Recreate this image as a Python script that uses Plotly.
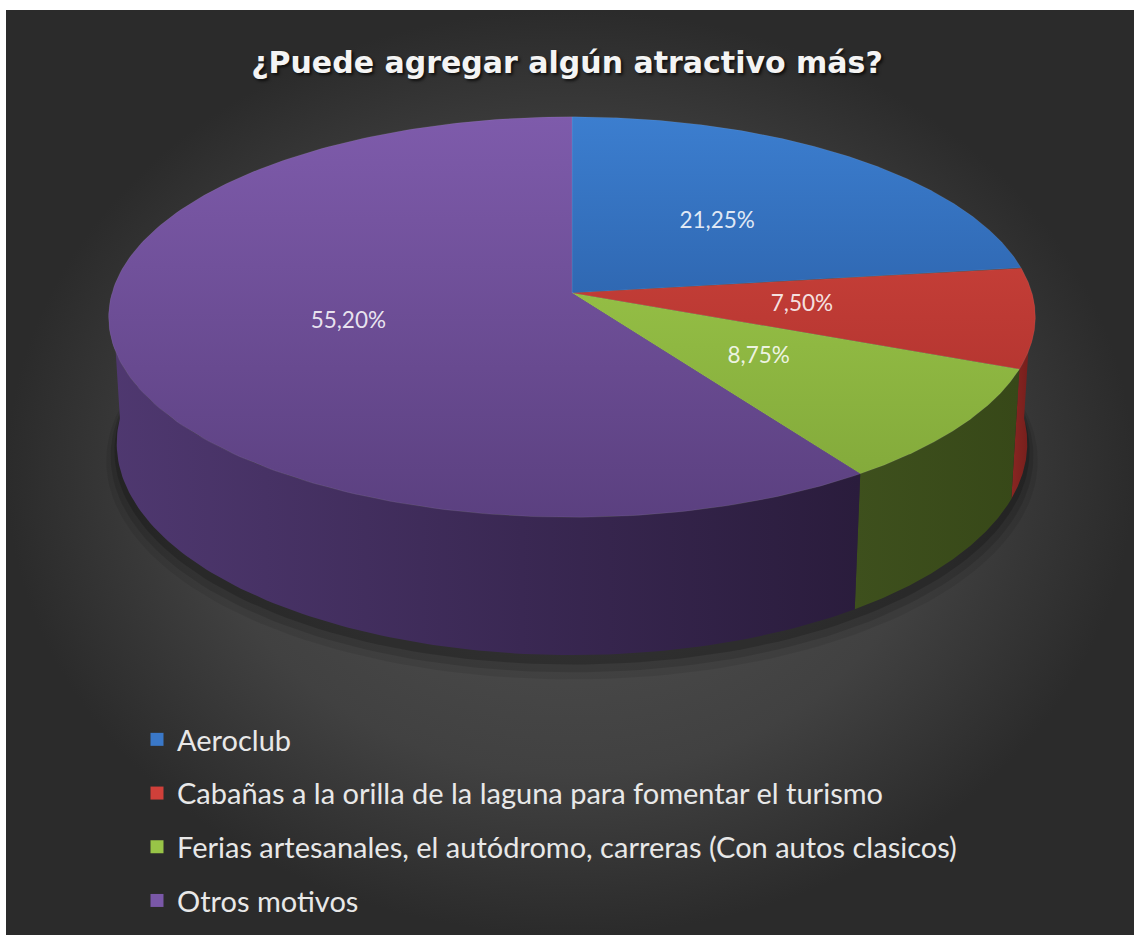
import numpy as np
import plotly.graph_objects as go

# ---------------- data ----------------
categories = [
    "Aeroclub",
    "Cabañas a la orilla de la laguna para fomentar el turismo",
    "Ferias artesanales, el autódromo, carreras (Con autos clasicos)",
    "Otros motivos",
]
values = [21.25, 7.50, 8.75, 55.20]
value_labels = ["21,25%", "7,50%", "8,75%", "55,20%"]
title_text = "¿Puede agregar algún atractivo más?"

# ---------------- styles ----------------
top_scales = [
    [[0, "#3c7ecf"], [1, "#1f4c8e"]],
    [[0, "#d6483f"], [1, "#a42c29"]],
    [[0, "#a3d04e"], [1, "#80a639"]],
    [[0, "#7e5bab"], [1, "#5b4080"]],
]
side_scales = [
    [[0, "#1f4c8e"], [1, "#1a3f78"]],
    [[0, "#8a2622"], [1, "#6e1c1a"]],
    [[0, "#3e501d"], [1, "#374818"]],
    [[0, "#4f3870"], [0.55, "#3a2853"], [1, "#2a1c3c"]],
]
legend_colors = ["#3a78c8", "#d0403a", "#98c447", "#7a58a8"]

# projection of the tilted cylinder (perspective)
CX, CY, S = 572.0, 293.0, 460.0
SIN_P = 0.429
COS_P = np.sqrt(1 - SIN_P ** 2)
D = 7.52
H = 0.307


def proj(theta_deg, r, z):
    t = np.radians(theta_deg)
    x3 = r * np.sin(t)
    y3 = r * np.cos(t)
    v = y3 * SIN_P + z * COS_P
    w = y3 * COS_P - z * SIN_P
    f = D / (D + w)
    return CX + S * x3 * f, CY - S * v * f


total = sum(values)
angles = np.concatenate([[0.0], np.cumsum(values) / total * 360.0])

fig = go.Figure()

# background with radial gradient
fig.add_trace(go.Scatter(
    x=[6, 1134, 1134, 6, 6], y=[10, 10, 935, 935, 10],
    mode="lines", line=dict(width=0), fill="toself",
    fillgradient=dict(type="radial",
                      colorscale=[[0, "#525252"], [0.65, "#414141"], [1, "#2b2b2b"]]),
    hoverinfo="skip", showlegend=False))

# soft shadow under pie
tt = np.linspace(0, 360, 241)
for rr, dz, op in [(1.025, 0.04, 0.08), (1.015, 0.03, 0.12), (1.006, 0.018, 0.18)]:
    sx, sy = proj(tt, rr, -H - dz)
    fig.add_trace(go.Scatter(x=sx, y=sy, mode="lines", line=dict(width=0),
                             fill="toself", fillcolor=f"rgba(0,0,0,{op})",
                             hoverinfo="skip", showlegend=False))

# side walls (visible front part only)
for i in range(len(values)):
    a0 = max(angles[i], 90.0)
    a1 = min(angles[i + 1], 270.0)
    if a1 <= a0:
        continue
    t = np.linspace(a0, a1, 120)
    x_top, y_top = proj(t, 1.0, 0.0)
    x_bot, y_bot = proj(t[::-1], 1.0, -H)
    xs = np.concatenate([x_top, x_bot, x_top[:1]])
    ys = np.concatenate([y_top, y_bot, y_top[:1]])
    fig.add_trace(go.Scatter(
        x=xs, y=ys, mode="lines", line=dict(width=0), fill="toself",
        fillgradient=dict(type="horizontal", colorscale=side_scales[i],
                          start=float(xs.min()), stop=float(xs.max())),
        hoverinfo="skip", showlegend=False))

# top faces
for i in range(len(values)):
    t = np.linspace(angles[i], angles[i + 1], 200)
    ax, ay = proj(t, 1.0, 0.0)
    xs = np.concatenate([[CX], ax, [CX]])
    ys = np.concatenate([[CY], ay, [CY]])
    fig.add_trace(go.Scatter(
        x=xs, y=ys, mode="lines", line=dict(width=0.6, color="rgba(255,255,255,0.12)"),
        fill="toself",
        fillgradient=dict(type="vertical", colorscale=top_scales[i], start=117, stop=517),
        hoverinfo="skip", showlegend=False))

# data labels
mid = (angles[:-1] + angles[1:]) / 2
lx, ly = proj(mid, 0.5, 0.0)
fig.add_trace(go.Scatter(
    x=lx, y=ly, mode="text", text=value_labels,
    textfont=dict(family="Lato, Open Sans, sans-serif", size=22.5,
                  color="rgba(255,255,255,0.86)"),
    hoverinfo="skip", showlegend=False))

# legend entries
for i, c in enumerate(categories):
    fig.add_trace(go.Scatter(
        x=[None], y=[None], mode="markers", name=c, legendgroup=str(i),
        marker=dict(symbol="square", size=13, color=legend_colors[i]),
        hoverinfo="skip"))

fig.update_layout(
    width=1134, height=935,
    margin=dict(l=0, r=0, t=0, b=0),
    paper_bgcolor="white", plot_bgcolor="white",
    xaxis=dict(range=[0, 1134], visible=False, fixedrange=True),
    yaxis=dict(range=[935, 0], visible=False, fixedrange=True),
    title=dict(text=title_text, x=567 / 1134, xanchor="center", y=1 - 62 / 935, yanchor="middle",
               font=dict(family="DejaVu Sans, Open Sans, sans-serif", size=30, color="#f4f4f4",
                         weight="bold", shadow="2px 2px 3px rgba(0,0,0,0.7)")),
    legend=dict(x=137 / 1134, y=1 - 714 / 935, xanchor="left", yanchor="top",
                bgcolor="rgba(0,0,0,0)", tracegroupgap=13,
                font=dict(family="Lato, Open Sans, sans-serif", size=29, color="#e8e8e8")),
    showlegend=True,
)

fig.write_html("out.html", config={"displayModeBar": False},
               post_script="document.body.style.margin='0';document.body.style.overflow='hidden';")
